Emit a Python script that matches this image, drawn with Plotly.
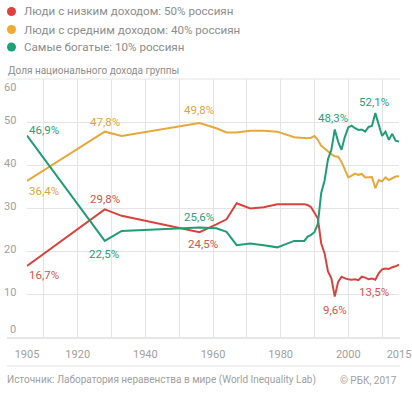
import plotly.graph_objects as go

# ---------------- data ----------------
years = [1905, 1928, 1933, 1956, 1961, 1964, 1967, 1971, 1975, 1979, 1984, 1987, 1988, 1989,
         1990, 1991, 1992, 1993, 1994, 1995, 1996, 1997, 1998, 1999, 2000, 2001, 2002, 2003,
         2004, 2005, 2006, 2007, 2008, 2009, 2010, 2011, 2012, 2013, 2014, 2015]

bottom50 = [16.7, 29.8, 28.3, 24.5, 26.3, 27.5, 31.2, 30.0, 30.3, 31.0, 31.0, 31.0, 30.8, 30.3,
            29.0, 27.7, 21.9, 19.6, 15.4, 13.8, 9.6, 13.0, 14.2, 13.8, 13.6, 13.5, 13.6, 13.4,
            14.2, 14.0, 13.6, 13.8, 13.5, 15.0, 15.9, 16.1, 16.0, 16.4, 16.6, 17.0]

middle40 = [36.4, 47.8, 46.8, 49.8, 48.6, 47.6, 47.6, 48.0, 48.0, 47.8, 46.5, 46.3, 46.3, 46.4,
            46.8, 45.9, 44.5, 43.9, 43.2, 42.6, 42.1, 42.0, 40.8, 39.0, 37.2, 37.6, 38.1, 37.8,
            38.0, 37.2, 37.3, 37.3, 34.7, 36.6, 36.3, 37.2, 36.6, 37.0, 37.4, 37.5]

top10 = [46.9, 22.5, 24.8, 25.6, 25.4, 24.6, 21.5, 21.9, 21.5, 21.0, 22.5, 22.5, 23.5, 23.9,
         24.5, 26.4, 33.6, 36.5, 41.4, 43.6, 48.3, 45.5, 43.6, 46.6, 48.8, 49.2, 48.6, 48.2,
         48.3, 47.8, 48.9, 49.1, 52.1, 49.7, 46.8, 47.8, 45.9, 47.3, 45.7, 45.5]

series_names = ["Люди с низким доходом: 50% россиян",
                "Люди с средним доходом: 40% россиян",
                "Самые богатые: 10% россиян"]

x_tick_vals = [1905, 1910, 1920, 1930, 1940, 1950, 1960, 1970, 1980, 1990, 2000, 2010, 2015]
x_tick_text = ["1905", "", "1920", "", "1940", "", "1960", "", "1980", "", "2000", "", "2015"]
y_tick_vals = [0, 10, 20, 30, 40, 50, 60]
y_tick_text = ["0", "10", "20", "30", "40", "50", "60"]

# labelled points: (series index, year)
labelled_points = [(2, 1905), (1, 1905), (0, 1905),
                   (0, 1928), (2, 1928), (1, 1928),
                   (1, 1956), (2, 1956), (0, 1956),
                   (2, 1996), (2, 2008), (0, 1996), (0, 2008)]

y_title = "Доля национального дохода группы"
source_text = "Источник: Лаборатория неравенства в мире (World Inequality Lab)"
copyright_text = "© РБК, 2017"

# ---------------- style ----------------
FONT = "Roboto, sans-serif"
LINE_COLORS = ["#d8433d", "#e6a83a", "#1f9d73"]
LABEL_COLORS = ["#d6524b", "#e0a53c", "#2a9d78"]
DOT_COLORS = ["#e2413b", "#efaa2f", "#1aa377"]
GRAY = "#8d8d8d"
TICK_GRAY = "#a0a0a0"
GRID = "#e4e4e4"

L, R, T, B = 27, 13, 79, 55
W_PX, H_PX = 412, 393
PW = W_PX - L - R
PH = H_PX - T - B


def px(x):
    return (x - L) / PW


def py(y):
    return (H_PX - B - y) / PH


data = [bottom50, middle40, top10]

fig = go.Figure()
for i, vals in enumerate(data):
    fig.add_trace(go.Scatter(x=years, y=vals, mode="lines",
                             line=dict(color=LINE_COLORS[i], width=2),
                             name=series_names[i], showlegend=False,
                             hoverinfo="skip"))

annotations = []
shapes = []

# label offsets (style), in pixels: key -> (xanchor, xshift, yshift)
label_style = {
    (2, 1905): ("left", 0, 6),
    (1, 1905): ("left", 0, -10),
    (0, 1905): ("left", 0, -9),
    (0, 1928): ("center", 0, 10),
    (2, 1928): ("center", -1, -13),
    (1, 1928): ("center", 0, 10),
    (1, 1956): ("center", 0, 13),
    (2, 1956): ("center", 0, 10),
    (0, 1956): ("center", 4, -12),
    (2, 1996): ("center", -2, 12),
    (2, 2008): ("center", -1, 11),
    (0, 1996): ("center", 0, -13),
    (0, 2008): ("center", -1, -12),
}

for (si, yr) in labelled_points:
    v = data[si][years.index(yr)]
    xa, xs, ys = label_style[(si, yr)]
    annotations.append(dict(
        x=yr, y=v, xref="x", yref="y",
        text=(f"{v:.1f}%").replace(".", ","),
        showarrow=False, xanchor=xa, yanchor="middle",
        xshift=xs, yshift=ys,
        font=dict(family=FONT, size=11.5, color=LABEL_COLORS[si])))

# y tick labels
for v, t in zip(y_tick_vals, y_tick_text):
    ys = 2
    if v == 0:
        ys = 9
    elif v == 60:
        ys = -8
    annotations.append(dict(
        x=px(18), y=v, xref="paper", yref="y", text=t, showarrow=False,
        xanchor="right", yanchor="middle", yshift=ys,
        font=dict(family=FONT, size=11, color=TICK_GRAY)))

# legend
legend_y = [11.5, 29.5, 47]
for i, name in enumerate(series_names):
    cy = legend_y[i]
    shapes.append(dict(type="circle", xref="paper", yref="paper",
                       x0=px(7), x1=px(16), y0=py(cy + 4.5), y1=py(cy - 4.5),
                       fillcolor=DOT_COLORS[i], line=dict(width=0)))
    annotations.append(dict(
        x=px(22), y=py(cy), xref="paper", yref="paper", text=name,
        showarrow=False, xanchor="left", yanchor="middle",
        font=dict(family=FONT, size=11.6, color=GRAY)))

annotations.append(dict(
    x=px(6), y=py(70), xref="paper", yref="paper", text=y_title,
    showarrow=False, xanchor="left", yanchor="middle",
    font=dict(family=FONT, size=10, color=GRAY)))

annotations.append(dict(
    x=px(5), y=py(380), xref="paper", yref="paper", text=source_text,
    showarrow=False, xanchor="left", yanchor="middle",
    font=dict(family=FONT, size=10, color=TICK_GRAY)))
annotations.append(dict(
    x=px(399), y=py(380), xref="paper", yref="paper", text=copyright_text,
    showarrow=False, xanchor="right", yanchor="middle",
    font=dict(family=FONT, size=10, color=TICK_GRAY)))

# baseline, top line, separator
for yy, col in [(338, "#cfcfcf"), (79, GRID), (366, "#e2e2e2")]:
    shapes.append(dict(type="line", xref="paper", yref="paper",
                       x0=px(7), x1=px(400), y0=py(yy), y1=py(yy),
                       line=dict(color=col, width=1), layer="below"))

fig.update_layout(
    width=W_PX, height=H_PX,
    margin=dict(l=L, r=R, t=T, b=B, pad=0, autoexpand=False),
    paper_bgcolor="white", plot_bgcolor="white",
    showlegend=False,
    annotations=annotations, shapes=shapes,
    xaxis=dict(range=[1905, 2015], tickmode="array", tickvals=x_tick_vals,
               ticktext=x_tick_text, showgrid=True, gridcolor=GRID, gridwidth=1,
               zeroline=False, showline=False, ticks="", ticklabelstandoff=8,
               tickfont=dict(family=FONT, size=11, color=TICK_GRAY),
               fixedrange=True),
    yaxis=dict(range=[0, 60], tickmode="array", tickvals=y_tick_vals,
               showticklabels=False, showgrid=True, gridcolor=GRID, gridwidth=1,
               zeroline=False, showline=False, ticks="", fixedrange=True),
)

fig.write_html("out.html", config={"displayModeBar": False})
